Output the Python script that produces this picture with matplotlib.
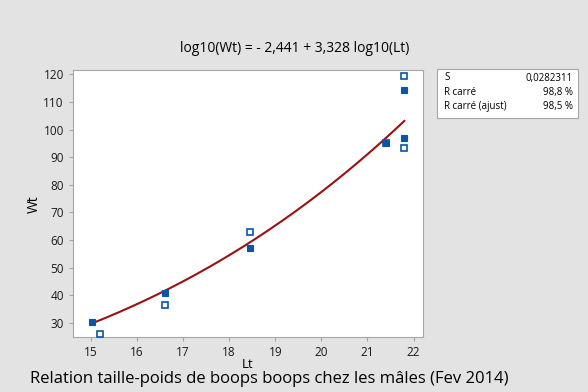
import numpy as np
import matplotlib.pyplot as plt

plt.rcParams['font.family'] = ['Open Sans', 'DejaVu Sans']

# fitted model shown in the title
INTERCEPT = -2.441
SLOPE = 3.328
LT_RANGE = [15.03, 21.8]

# observations (filled / open markers)
lt_filled = [15.03, 16.6, 18.45, 21.4, 21.8, 21.8]
wt_filled = [30.5, 41.0, 57.0, 95.0, 114.5, 97.0]
lt_open = [15.2, 16.6, 18.45, 21.4, 21.8, 21.8]
wt_open = [26.0, 36.5, 63.0, 95.0, 119.5, 93.5]

stats_labels = ["S", "R carré", "R carré (ajust)"]
stats_values = ["0,0282311", "98,8 %", "98,5 %"]

BG = "#e3e3e3"
BLUE = "#0a55a6"
RED = "#9b1010"
SPINE = "#a6a6a6"

fig = plt.figure(figsize=(5.88, 3.92), dpi=100, facecolor=BG)
ax = fig.add_axes([0.124, 0.140, 0.595, 0.681])
ax.set_facecolor("white")

lt_fit = np.linspace(LT_RANGE[0], LT_RANGE[1], 200)
wt_fit = 10 ** (INTERCEPT + SLOPE * np.log10(lt_fit))
ax.plot(lt_fit, wt_fit, color=RED, lw=1.5, zorder=2)

ax.plot(lt_open, wt_open, ls="none", marker="s", ms=4.6, mfc="white",
        mec=BLUE, mew=1.2, zorder=3)
ax.plot(lt_filled, wt_filled, ls="none", marker="s", ms=4.8, mfc=BLUE,
        mec=BLUE, mew=0.8, zorder=4)

ax.set_xlim(14.61, 22.2)
ax.set_ylim(24.9, 121.5)
ax.set_xticks(range(15, 23))
ax.set_yticks(range(30, 121, 10))
for s in ax.spines.values():
    s.set_color(SPINE)
ax.tick_params(colors=SPINE, labelcolor="#1a1a1a", labelsize=8.5, length=3)

ax.set_xlabel("Lt", fontsize=9.5, labelpad=-1)
ax.set_ylabel("Wt", fontsize=10, labelpad=1)

fig.text(0.502, 0.877, "log10(Wt) = - 2,441 + 3,328 log10(Lt)",
         ha="center", va="center", fontsize=10)

# summary box
box = plt.Rectangle((437 / 588, 1 - 118 / 392), 141 / 588, 49 / 392,
                    transform=fig.transFigure, facecolor="white",
                    edgecolor=SPINE, lw=0.8)
fig.add_artist(box)
for i, (lab, val) in enumerate(zip(stats_labels, stats_values)):
    y = 1 - (78 + i * 14.5) / 392
    fig.text(444 / 588, y, lab, fontsize=7, va="center", ha="left")
    fig.text(573 / 588, y, val, fontsize=7, va="center", ha="right")

fig.text(30 / 588, 1 - 379 / 392,
         "Relation taille-poids de boops boops chez les mâles (Fev 2014)",
         fontsize=12, ha="left", va="center")

fig.savefig("out.png", dpi=100, facecolor=BG)
